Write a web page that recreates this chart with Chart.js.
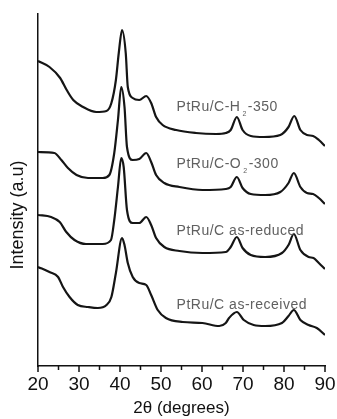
<!DOCTYPE html>
<html>
<head>
<meta charset="utf-8">
<script src="https://cdn.jsdelivr.net/npm/chart.js@4/dist/chart.umd.min.js"></script>
<style>
  body { margin: 0; background: #fff; }
  #wrap { width: 337px; height: 419px; }
</style>
</head>
<body>
<div id="wrap"><canvas id="xrd" width="337" height="419"></canvas></div>
<script>
// 2theta positions and intensity (arbitrary units, curves stacked)
const thetaH2 = [20, 22.8, 25.4, 27, 28.6, 31, 34.2, 36.7, 37.9, 39, 39.7, 40.5, 41.4, 41.9, 43.1, 44.7, 46.4, 47.6, 48.8, 50.4, 53.7, 58.5, 63.4, 65.8, 67, 68.5, 69.9, 71.9, 75.1, 79.1, 81.1, 82.5, 84, 85.6, 87.1, 88.5, 90];
const intH2 = [305, 299, 288, 276, 266, 259, 254, 255, 263, 286, 313, 336, 313, 279, 268, 266, 270, 263, 249, 241, 236, 233, 232, 233, 236, 249, 236, 230, 229, 231, 239, 250, 236, 231, 230, 226, 220];

const thetaO2 = [20, 24, 25.7, 27.3, 29.4, 32.2, 35.8, 37.4, 38.6, 39.5, 40.3, 41.1, 41.7, 43.1, 44.7, 46.4, 47.6, 48.8, 50.8, 54.5, 60.1, 65.8, 67, 68.5, 69.9, 71.9, 75.4, 79.1, 81.1, 82.4, 84, 85.6, 87.1, 88.5, 90];
const intO2 = [214, 213, 206, 198, 191, 188, 188, 191, 213, 246, 279, 259, 219, 206, 207, 213, 204, 191, 183, 179, 176, 177, 179, 189, 178, 172, 171, 174, 183, 193, 179, 173, 172, 168, 162];

const thetaReduced = [20, 23.2, 25.3, 26.9, 28.9, 31.7, 35.8, 37.8, 38.6, 39.5, 40.3, 40.9, 41.7, 43.1, 44.7, 46.4, 47.6, 48.8, 50.8, 54.5, 60.1, 65.8, 67, 68.5, 69.9, 71.9, 75.4, 79.5, 81.1, 82.4, 84, 86, 87.2, 88.5, 90];
const intReduced = [151, 149, 144, 134, 126, 122, 122, 126, 146, 179, 208, 199, 156, 143, 143, 149, 141, 128, 119, 115, 113, 114, 119, 129, 118, 111, 109, 113, 121, 132, 116, 109, 108, 103, 97];

const thetaReceived = [20, 22.8, 24.9, 26.1, 27.7, 29.7, 32.2, 34.6, 36.7, 37.9, 39, 40.5, 41.1, 41.9, 43.1, 44.7, 46.4, 47.6, 49.2, 51.2, 55.3, 60.1, 64.2, 65.8, 66.6, 68.5, 70.2, 72.6, 75.4, 79.5, 81.1, 82.4, 84, 86, 88, 90];
const intReceived = [99, 94, 89, 79, 69, 61, 59, 58, 61, 69, 93, 128, 121, 103, 89, 83, 81, 71, 56, 48, 44, 43, 40, 43, 48, 54, 46, 41, 40, 43, 50, 56, 46, 41, 38, 31];

const xTicks = [20, 30, 40, 50, 60, 70, 80, 90];

// curve labels: [before subscript, subscript, after subscript]
const curveLabels = [
    ['PtRu/C-H', '2', '-350'],
    ['PtRu/C-O', '2', '-300'],
    ['PtRu/C as-reduced', '', ''],
    ['PtRu/C as-received', '', '']
];
const labelAnchorY = [255, 198, 131, 57];

function puntos(xs, ys) {
    return xs.map((x, i) => ({ x: x, y: ys[i] }));
}

function serie(xs, ys) {
    return {
        data: puntos(xs, ys),
        borderColor: '#151515',
        borderWidth: 2.2,
        pointRadius: 0,
        fill: false,
        cubicInterpolationMode: 'monotone'
    };
}

const extras = {
    id: 'extras',
    afterDraw(chart) {
        const ctx = chart.ctx;
        const xs = chart.scales.x;
        const ys = chart.scales.y;
        const base = chart.chartArea.bottom;

        // tick marks, long on the decades, short in between
        ctx.save();
        ctx.strokeStyle = '#111';
        ctx.lineWidth = 1.5;
        xs.ticks.forEach(t => {
            const px = xs.getPixelForValue(t.value);
            const len = t.value % 10 === 0 ? 6 : 4;
            ctx.beginPath();
            ctx.moveTo(px, base);
            ctx.lineTo(px, base + len);
            ctx.stroke();
        });
        ctx.restore();

        // y title
        ctx.save();
        ctx.fillStyle = '#111';
        ctx.font = '18px "Liberation Sans", Arial, sans-serif';
        ctx.textAlign = 'center';
        ctx.textBaseline = 'middle';
        ctx.translate(18, 215);
        ctx.rotate(-Math.PI / 2);
        ctx.fillText('Intensity (a.u)', 0, 0);
        ctx.restore();

        // curve labels
        ctx.save();
        ctx.fillStyle = '#606060';
        ctx.textBaseline = 'alphabetic';
        ctx.textAlign = 'left';
        if ('letterSpacing' in ctx) ctx.letterSpacing = '0.5px';
        const lx = xs.getPixelForValue(53.8);
        curveLabels.forEach((parts, i) => {
            const by = ys.getPixelForValue(labelAnchorY[i]);
            ctx.font = '14px "Liberation Sans", Arial, sans-serif';
            ctx.fillText(parts[0], lx, by);
            let w = ctx.measureText(parts[0]).width;
            if (parts[1]) {
                ctx.font = '7px "Liberation Sans", Arial, sans-serif';
                ctx.fillText(parts[1], lx + w + 2, by + 5);
                w += ctx.measureText(parts[1]).width + 3;
                ctx.font = '14px "Liberation Sans", Arial, sans-serif';
                ctx.fillText(parts[2], lx + w, by);
            }
        });
        ctx.restore();
    }
};

new Chart(document.getElementById('xrd'), {
    type: 'line',
    data: {
        datasets: [
            serie(thetaH2, intH2),
            serie(thetaO2, intO2),
            serie(thetaReduced, intReduced),
            serie(thetaReceived, intReceived)
        ]
    },
    options: {
        responsive: false,
        animation: false,
        layout: { padding: { top: 14, right: 12, left: 0, bottom: 0 } },
        plugins: {
            legend: { display: false },
            tooltip: { enabled: false }
        },
        scales: {
            x: {
                type: 'linear',
                min: 20,
                max: 90,
                afterFit: s => { s.height = 53; s.paddingLeft = 0; s.paddingRight = 0; },
                ticks: {
                    stepSize: 5,
                    autoSkip: false,
                    maxRotation: 0,
                    padding: 7,
                    color: '#111',
                    font: { family: '"Liberation Sans", Arial, sans-serif', size: 19 },
                    callback: v => xTicks.includes(v) ? String(v) : ''
                },
                grid: { drawOnChartArea: false, drawTicks: false },
                border: { color: '#111', width: 1.5 },
                title: {
                    display: true,
                    text: '2θ (degrees)',
                    color: '#111',
                    padding: 0,
                    font: { family: '"Liberation Sans", Arial, sans-serif', size: 17 }
                }
            },
            y: {
                min: 0,
                max: 352,
                afterFit: s => { s.width = 38; },
                ticks: { display: false },
                grid: { drawOnChartArea: false, drawTicks: false },
                border: { color: '#111', width: 1.5 }
            }
        }
    },
    plugins: [extras]
});
</script>
</body>
</html>
